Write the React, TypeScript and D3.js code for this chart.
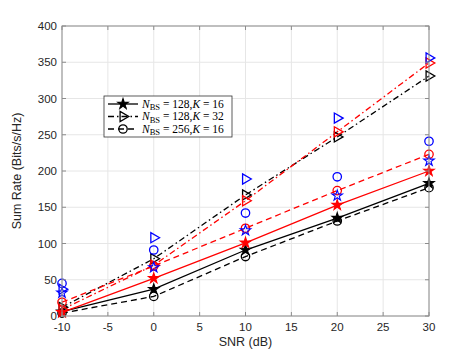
import React, { useEffect } from 'react';
import * as d3 from 'd3';

// SNR (dB) on x
const snr = [-10, 0, 10, 20, 30];

// black lines (with markers)
const black128k16 = [6, 37, 91, 135, 183];
const black128k32 = [12, 79, 167, 247, 331];
const black256k16 = [4, 27, 82, 131, 177];

// red lines (with markers)
const red128k16 = [5, 52, 101, 153, 200];
const red128k32 = [9, 70, 159, 254, 349];
const red256k16 = [19, 69, 121, 173, 223];

// blue markers only
const blue128k16 = [32, 67, 118, 166, 214];
const blue128k32 = [37, 108, 189, 273, 356];
const blue256k16 = [45, 91, 142, 192, 241];

const xTicks = [-10, -5, 0, 5, 10, 15, 20, 25, 30];
const yTicks = [0, 50, 100, 150, 200, 250, 300, 350, 400];

const W = 474;
const H = 354;
const m = { left: 62, right: 45, top: 26, bottom: 38 };

type Kind = 'star' | 'tri' | 'circ';

const series = [
  { v: black128k16, color: '#000', dash: '', kind: 'star' as Kind, line: true },
  { v: black128k32, color: '#000', dash: '6,3,1.5,3', kind: 'tri' as Kind, line: true },
  { v: black256k16, color: '#000', dash: '6,4', kind: 'circ' as Kind, line: true },
  { v: red128k16, color: '#ff0000', dash: '', kind: 'star' as Kind, line: true },
  { v: red128k32, color: '#ff0000', dash: '6,3,1.5,3', kind: 'tri' as Kind, line: true },
  { v: red256k16, color: '#ff0000', dash: '6,4', kind: 'circ' as Kind, line: true },
  { v: blue128k16, color: '#0000ff', dash: '', kind: 'star' as Kind, line: false },
  { v: blue128k32, color: '#0000ff', dash: '', kind: 'tri' as Kind, line: false },
  { v: blue256k16, color: '#0000ff', dash: '', kind: 'circ' as Kind, line: false },
];

const starPath = d3.symbol(d3.symbolStar, 34)()!;
const triPath = d3.symbol(d3.symbolTriangle, 44)()!;

function Marker({ kind, color, x, y, hollowStar }: { kind: Kind; color: string; x: number; y: number; hollowStar?: boolean }) {
  if (kind === 'star') {
    return (
      <path d={starPath} transform={`translate(${x},${y})`}
        fill={hollowStar ? 'none' : color} stroke={color} strokeWidth={1.1} />
    );
  }
  if (kind === 'tri') {
    return (
      <path d={triPath} transform={`translate(${x},${y}) rotate(90)`}
        fill="none" stroke={color} strokeWidth={1.3} />
    );
  }
  return <circle cx={x} cy={y} r={4.2} fill="none" stroke={color} strokeWidth={1.3} />;
}

export default function App() {
  useEffect(() => {
    document.body.style.margin = '0';
  }, []);

  const x = d3.scaleLinear().domain([-10, 30]).range([m.left, W - m.right]);
  const y = d3.scaleLinear().domain([0, 400]).range([H - m.bottom, m.top]);

  const line = d3.line<number>()
    .x((_, i) => x(snr[i]))
    .y((d) => y(d));

  const axisColor = '#8c8c8c';
  const textColor = '#262626';
  const font = 'Liberation Sans, Arial, sans-serif';

  const legendRows = [
    { kind: 'star' as Kind, dash: '', n: '128', k: '16' },
    { kind: 'tri' as Kind, dash: '6,3,1.5,3', n: '128', k: '32' },
    { kind: 'circ' as Kind, dash: '6,4', n: '256', k: '16' },
  ];

  return (
    <svg width={W} height={H} style={{ display: 'block', background: '#fff' }}>
      <rect x={0} y={0} width={W} height={H} fill="#fff" />
      {/* grid */}
      {xTicks.map((t) => (
        <line key={'gx' + t} x1={x(t)} x2={x(t)} y1={y(0)} y2={y(400)} stroke="#e6e6e6" strokeWidth={1} />
      ))}
      {yTicks.map((t) => (
        <line key={'gy' + t} x1={x(-10)} x2={x(30)} y1={y(t)} y2={y(t)} stroke="#e6e6e6" strokeWidth={1} />
      ))}

      {/* lines */}
      {series.filter((s) => s.line).map((s, i) => (
        <path key={'l' + i} d={line(s.v)!} fill="none" stroke={s.color} strokeWidth={1.3}
          strokeDasharray={s.dash || undefined} />
      ))}

      {/* markers */}
      {series.map((s, i) =>
        s.v.map((v, j) => (
          <Marker key={'m' + i + '-' + j} kind={s.kind} color={s.color} x={x(snr[j])} y={y(v)}
            hollowStar={s.color === '#0000ff'} />
        ))
      )}

      {/* axes box */}
      <rect x={x(-10)} y={y(400)} width={x(30) - x(-10)} height={y(0) - y(400)}
        fill="none" stroke={axisColor} strokeWidth={1} />
      {xTicks.map((t) => (
        <g key={'tx' + t}>
          <line x1={x(t)} x2={x(t)} y1={y(0)} y2={y(0) - 4} stroke={axisColor} />
          <line x1={x(t)} x2={x(t)} y1={y(400)} y2={y(400) + 4} stroke={axisColor} />
          <text x={x(t)} y={y(0) + 15} textAnchor="middle" fontFamily={font} fontSize={11.5} fill={textColor}>{t}</text>
        </g>
      ))}
      {yTicks.map((t) => (
        <g key={'ty' + t}>
          <line x1={x(-10)} x2={x(-10) + 4} y1={y(t)} y2={y(t)} stroke={axisColor} />
          <line x1={x(30)} x2={x(30) - 4} y1={y(t)} y2={y(t)} stroke={axisColor} />
          <text x={x(-10) - 5} y={y(t) + 4} textAnchor="end" fontFamily={font} fontSize={11.5} fill={textColor}>{t}</text>
        </g>
      ))}

      <text x={(x(-10) + x(30)) / 2} y={H - 8} textAnchor="middle" fontFamily={font} fontSize={12.5} fill={textColor}>SNR (dB)</text>
      <text transform={`translate(21,${(y(0) + y(400)) / 2}) rotate(-90)`} textAnchor="middle" fontFamily={font}
        fontSize={12.5} fill={textColor}>Sum Rate (Bits/s/Hz)</text>

      {/* legend */}
      <g transform="translate(104,96)">
        <rect x={0} y={0} width={128} height={41} fill="#fff" stroke="#333" strokeWidth={0.8} />
        {legendRows.map((r, i) => {
          const cy = 8 + i * 12.5;
          return (
            <g key={'lg' + i}>
              <line x1={4} x2={34} y1={cy} y2={cy} stroke="#000" strokeWidth={1.3} strokeDasharray={r.dash || undefined} />
              <Marker kind={r.kind} color="#000" x={19} y={cy} />
              <text x={38} y={cy + 3.5} fontFamily="Liberation Serif, serif" fontSize={11.5} fill="#000">
                <tspan fontStyle="italic">N</tspan>
                <tspan fontSize={8.5} dy={2.5}>BS</tspan>
                <tspan dy={-2.5}>{` = ${r.n},`}</tspan>
                <tspan fontStyle="italic">K</tspan>
                <tspan>{` = ${r.k}`}</tspan>
              </text>
            </g>
          );
        })}
      </g>
    </svg>
  );
}
